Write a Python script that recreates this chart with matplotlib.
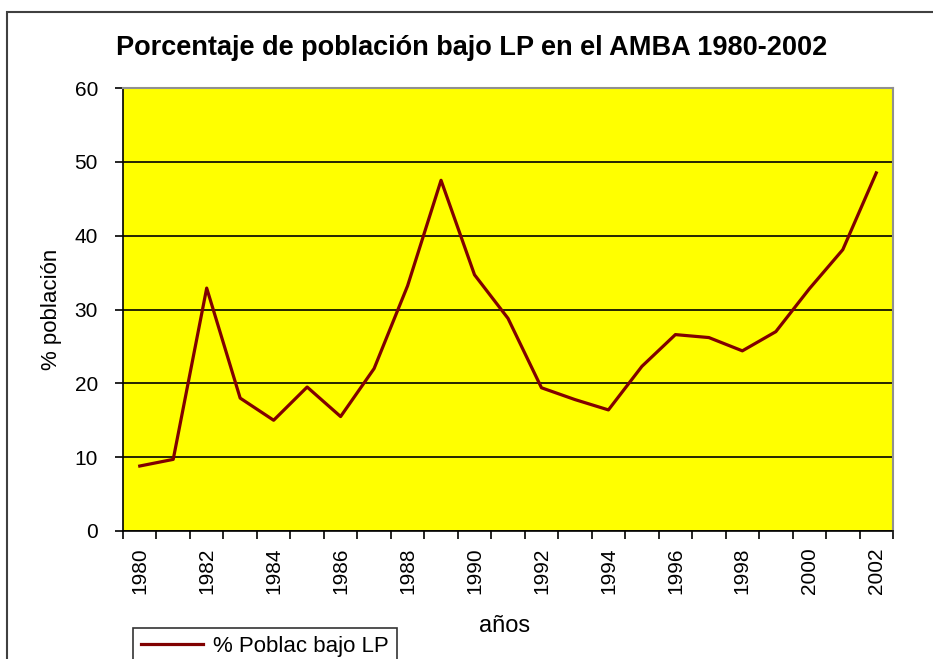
import numpy as np
import matplotlib
matplotlib.use('Agg')
import matplotlib.pyplot as plt
from matplotlib.patches import Rectangle

plt.rcParams['font.family'] = ['Liberation Sans', 'DejaVu Sans']

years = list(range(1980, 2003))
pct_lp = [8.8, 9.7, 32.9, 18.0, 15.0, 19.5, 15.5, 22.0, 33.2, 47.5, 34.7, 28.8,
          19.4, 17.8, 16.4, 22.3, 26.6, 26.2, 24.4, 27.0, 32.8, 38.1, 48.5]
series_label = '% Poblac bajo LP'
title = 'Porcentaje de población bajo LP en el AMBA 1980-2002'

W, H = 933, 659
fig = plt.figure(figsize=(W / 100, H / 100), dpi=100)

# chart area border (cut by the picture at right and bottom)
fig.patches.append(Rectangle((7 / W, -0.2), 1.2, 1 - 12 / H + 0.2, transform=fig.transFigure,
                             fill=False, ec='#404040', lw=1.5))

ax = fig.add_axes([123 / W, 1 - 531 / H, 770 / W, 443 / H])
ax.set_facecolor('#FFFF00')

x = np.arange(len(years))
line, = ax.plot(x, pct_lp, color='#800000', lw=2.3, label=series_label, zorder=3)

ax.set_xlim(-0.5, len(years) - 0.5)
ax.set_ylim(0, 60)
ax.set_yticks(range(0, 61, 10))
ax.yaxis.grid(True, color='black', lw=1.2)
ax.set_axisbelow(True)

# ticks at category boundaries, labels at category centres (every 2nd year)
ax.set_xticks(np.arange(-0.5, len(years), 1))
ax.set_xticklabels([])
ax.set_xticks(x[::2], minor=True)
ax.set_xticklabels([str(y) for y in years[::2]], minor=True, rotation=90)
ax.tick_params(axis='x', which='major', direction='out', length=6, width=1.2, color='black')
ax.tick_params(axis='x', which='minor', length=0, pad=12, labelsize=15)
ax.tick_params(axis='y', direction='out', length=6, width=1.2, labelsize=15, pad=12)

for s in ['left', 'bottom']:
    ax.spines[s].set_color('black')
    ax.spines[s].set_linewidth(1.2)
for s in ['top', 'right']:
    ax.spines[s].set_color('#909090')
    ax.spines[s].set_linewidth(1.5)

ax.set_ylabel('% población', fontsize=16)
ax.yaxis.set_label_coords(-0.079, 0.5)
ax.set_xlabel('años', fontsize=17)
ax.xaxis.set_label_coords(0.496, -0.19)

fig.text(472 / W, 1 - 48 / H, title, ha='center', va='center', fontsize=19.5, weight='bold')

leg = fig.legend(handles=[line], loc='upper left', bbox_to_anchor=(133 / W, 1 - 628 / H),
                 borderaxespad=0, fontsize=16, frameon=True, fancybox=False,
                 handlelength=2.8, handletextpad=0.45, borderpad=0.35)
leg.get_frame().set_edgecolor('black')
leg.get_frame().set_linewidth(1.2)

fig.savefig('out.png', dpi=100)
